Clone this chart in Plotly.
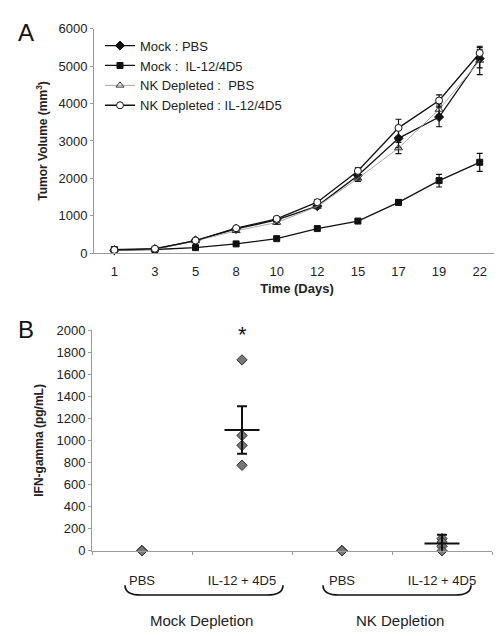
import plotly.graph_objects as go

# ---------------- Panel A data ----------------
days = ["1", "3", "5", "8", "10", "12", "15", "17", "19", "22"]
mock_pbs = [80, 110, 340, 650, 890, 1260, 2080, 3070, 3640, 5200]
mock_pbs_err = [10, 15, 30, 40, 50, 60, 100, 250, 260, 250]
mock_il12 = [100, 100, 150, 250, 390, 660, 860, 1360, 1940, 2430]
mock_il12_err = [10, 10, 20, 30, 40, 50, 50, 70, 170, 240]
nk_pbs = [80, 100, 330, 600, 820, 1250, 2000, 2810, 3840, 5150]
nk_pbs_err = [10, 15, 25, 40, 50, 60, 80, 150, 150, 380]
nk_il12 = [90, 120, 340, 670, 920, 1365, 2200, 3350, 4080, 5350]
nk_il12_err = [10, 15, 30, 40, 50, 60, 80, 230, 150, 150]

# ---------------- Panel B data ----------------
groups = ["PBS", "IL-12 + 4D5", "PBS ", "IL-12 + 4D5 "]
group_labels = ["PBS", "IL-12 + 4D5", "PBS", "IL-12 + 4D5"]
points = [
    [0, 0, 0, 0],
    [1730, 1045, 955, 775],
    [0, 0, 0, 0],
    [110, 80, 40, 0],
]
means = [None, 1095, None, 65]
sems = [None, 215, None, 80]
depletion = ["Mock Depletion", "NK Depletion"]

W, H = 502, 637
def px(x):
    return x / W
def py(y):
    return 1 - y / H

FONT = "Liberation Sans, Arial, sans-serif"
AXC = "#9a9a9a"

fig = go.Figure()

def add_series(y, err, name, symbol, mcolor, mline, lcolor, lwidth, size):
    fig.add_trace(go.Scatter(
        x=days, y=y, name=name, mode="lines+markers",
        line=dict(color=lcolor, width=lwidth),
        marker=dict(symbol=symbol, size=size, color=mcolor,
                    line=dict(color=mline, width=1)),
        error_y=dict(type="data", array=err, visible=True,
                     color="#111", thickness=1.2, width=3),
        xaxis="x", yaxis="y", cliponaxis=False,
    ))

add_series(mock_pbs, mock_pbs_err, "Mock : PBS", "diamond", "#111", "#111", "#111", 1.3, 7)
add_series(mock_il12, mock_il12_err, "Mock :  IL-12/4D5", "square", "#111", "#111", "#111", 1.3, 6)
add_series(nk_pbs, nk_pbs_err, "NK Depleted :  PBS", "triangle-up-open", "#333", "#333", "#aaaaaa", 1.0, 7)
add_series(nk_il12, nk_il12_err, "NK Depleted : IL-12/4D5", "circle", "white", "#111", "#111", 1.3, 7)

# Panel B points
for g, vals in zip(groups, points):
    fig.add_trace(go.Scatter(
        x=[g] * len(vals), y=vals, mode="markers", showlegend=False,
        marker=dict(symbol="diamond", size=8, color="#777",
                    line=dict(color="#333", width=1)),
        xaxis="x2", yaxis="y2", cliponaxis=False,
    ))
for g, m, s in zip(groups, means, sems):
    if m is None:
        continue
    fig.add_trace(go.Scatter(
        x=[g], y=[m], mode="markers", showlegend=False,
        marker=dict(symbol="line-ew", size=25,
                    line=dict(color="#111", width=2)),
        error_y=dict(type="data", array=[s], visible=True,
                     color="#111", thickness=2, width=5),
        xaxis="x2", yaxis="y2", cliponaxis=False,
    ))

fig.update_layout(
    width=W, height=H,
    margin=dict(l=0, r=0, t=0, b=0),
    paper_bgcolor="white", plot_bgcolor="white",
    font=dict(family=FONT, size=13, color="#222"),
    showlegend=True,
    legend=dict(x=px(92), y=py(16), xanchor="left", yanchor="top",
                bgcolor="rgba(0,0,0,0)", font=dict(size=13, color="#222"),
                tracegroupgap=0, itemwidth=30),
    xaxis=dict(domain=[px(86), px(492)], anchor="y", type="category",
               categoryorder="array", categoryarray=days,
               range=[-0.5, 9.5],
               showline=True, linecolor=AXC, linewidth=1,
               showgrid=False, zeroline=False, ticks="",
               ticklabelstandoff=6,
               tickfont=dict(size=13, color="#222"),
               title=dict(text="<b>Time (Days)</b>", font=dict(size=13, color="#222"), standoff=6)),
    yaxis=dict(domain=[py(244), py(14)], anchor="x", range=[0, 6000],
               dtick=1000, showline=True, linecolor=AXC, linewidth=1,
               showgrid=False, zeroline=False, ticks="outside", ticklen=3,
               tickcolor=AXC, tickfont=dict(size=13, color="#222"),
               title=dict(text="<b>Tumor Volume (mm<sup>3</sup>)</b>",
                          font=dict(size=12, color="#222"), standoff=8)),
    xaxis2=dict(domain=[px(84), px(484)], anchor="y2", type="category",
                categoryorder="array", categoryarray=groups,
                range=[-0.5, 3.5], tickmode="array", tickvals=groups,
                ticktext=group_labels,
                showline=True, linecolor=AXC, linewidth=1,
                showgrid=False, zeroline=False, ticks="outside",
                tickson="boundaries", ticklen=3, tickcolor=AXC,
                ticklabelstandoff=18,
                tickfont=dict(size=13, color="#222")),
    yaxis2=dict(domain=[py(548.7), py(322.7)], anchor="x2", range=[0, 2000],
                dtick=200, showline=True, linecolor=AXC, linewidth=1,
                showgrid=False, zeroline=False, ticks="outside", ticklen=3,
                tickcolor=AXC, tickfont=dict(size=13, color="#222"),
                title=dict(text="<b>IFN-gamma (pg/mL)</b>",
                           font=dict(size=12, color="#222"), standoff=10)),
)

annotations = [
    dict(text="A", x=px(8), y=py(18), xref="paper", yref="paper",
         xanchor="left", yanchor="middle", showarrow=False,
         font=dict(size=24, color="#111")),
    dict(text="B", x=px(8), y=py(322), xref="paper", yref="paper",
         xanchor="left", yanchor="middle", showarrow=False,
         font=dict(size=24, color="#111")),
    dict(text="*", x=groups[1], y=1960, xref="x2", yref="y2",
         showarrow=False, font=dict(size=22, color="#111"),
         xanchor="center", yanchor="middle"),
    dict(text=depletion[0], x=px(193), y=py(620), xref="paper", yref="paper",
         xanchor="center", yanchor="middle",
         showarrow=False, font=dict(size=15, color="#222")),
    dict(text=depletion[1], x=px(392), y=py(620), xref="paper", yref="paper",
         xanchor="center", yanchor="middle",
         showarrow=False, font=dict(size=15, color="#222")),
]
fig.update_layout(annotations=annotations)

# Curly brace shapes (bottom bracket)
def brace(x0, x1, ytop, ybot):
    r = 8
    pts = (f"M {px(x0)},{py(ytop)} "
           f"Q {px(x0)},{py(ybot)} {px(x0 + r * 2)},{py(ybot)} "
           f"L {px(x1 - r * 2)},{py(ybot)} "
           f"Q {px(x1)},{py(ybot)} {px(x1)},{py(ytop)}")
    return dict(type="path", path=pts, xref="paper", yref="paper",
                line=dict(color="#111", width=1.6))

fig.update_layout(shapes=[brace(117, 275, 584, 594), brace(315, 463, 584, 594)])

fig.write_html("out.html")
